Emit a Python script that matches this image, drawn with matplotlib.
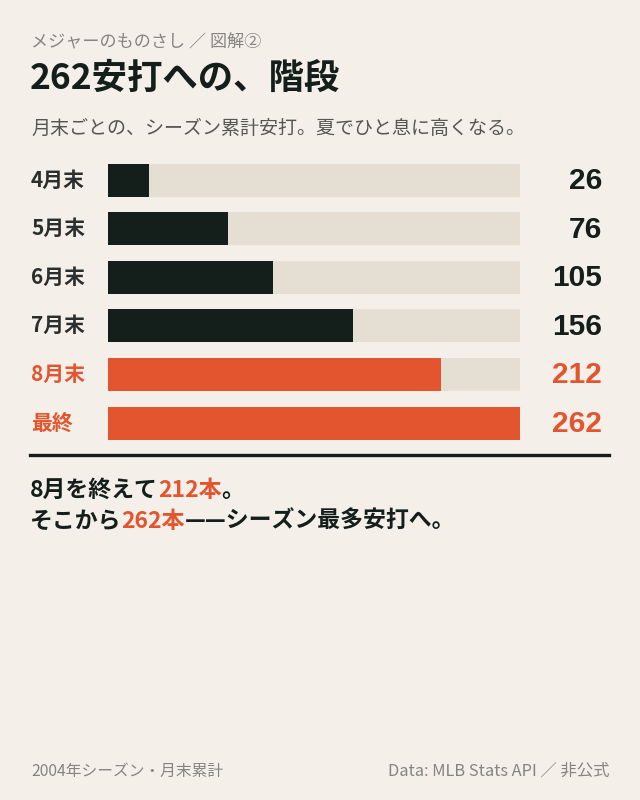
import matplotlib
matplotlib.use("Agg")
import matplotlib.pyplot as plt
import matplotlib.transforms as mtransforms
from matplotlib import font_manager

# ---- data ----
categories = ["4月末", "5月末", "6月末", "7月末", "8月末", "最終"]
hits = [26, 76, 105, 156, 212, 262]
highlight = [False, False, False, False, True, True]
total = 262

kicker = "メジャーのものさし ／ 図解②"
title = "262安打への、階段"
subtitle = "月末ごとの、シーズン累計安打。夏でひと息に高くなる。"
footer_left = "2004年シーズン・月末累計"
footer_right = "Data: MLB Stats API ／ 非公式"

BG = "#F4F0E9"
TRACK = "#E4DED3"
DARK = "#141F1B"
ORANGE = "#E2552F"
GRAY = "#85847F"

JP = ["Noto Sans CJK JP", "DejaVu Sans"]
names = {f.name for f in font_manager.fontManager.ttflist}
NUM = ["Liberation Sans Narrow"] if "Liberation Sans Narrow" in names else ["Liberation Sans"]
plt.rcParams["font.family"] = JP

W, H = 640, 800
fig = plt.figure(figsize=(W / 100, H / 100), dpi=100, facecolor=BG)

def fy(px):
    return 1 - px / H

def fx(px):
    return px / W

# header
fig.text(fx(31), fy(42), kicker, fontsize=12.3, color=GRAY, va="center", ha="left")
fig.text(fx(30), fy(78), title, fontsize=25.5, fontweight="bold", color=DARK, va="center", ha="left")
fig.text(fx(31), fy(128), subtitle, fontsize=13.7, color="#555552", va="center", ha="left")

# bars axes
row0, step = 180, 48.6
top_px = row0 - step / 2
bot_px = row0 + step * 5.5
ax = fig.add_axes([fx(108), fy(bot_px), fx(520) - fx(108), (bot_px - top_px) / H])
ax.set_facecolor("none")
ax.set_xlim(0, total)
ax.set_ylim(5.5, -0.5)
ax.axis("off")

bh = 33 / step
ys = list(range(len(categories)))
ax.barh(ys, [total] * len(ys), height=bh, color=TRACK, linewidth=0)
ax.barh(ys, hits, height=bh, color=[ORANGE if h else DARK for h in highlight], linewidth=0)

tr = mtransforms.blended_transform_factory(fig.transFigure, ax.transData)
for y, c, v, h in zip(ys, categories, hits, highlight):
    col = ORANGE if h else "#2A2E2C"
    ax.text(fx(31), y, c, transform=tr, fontsize=15, fontweight="bold", color=col,
            va="center", ha="left")
    ax.text(fx(602), y + 0.02, str(v), transform=tr, fontsize=21.5, fontweight="bold",
            color=ORANGE if h else DARK, va="center", ha="right", family=NUM)

# separator
fig.add_artist(plt.Line2D([fx(30), fx(609)], [fy(455), fy(455)], color=DARK, linewidth=2.4))

# annotation (multi-coloured)
def colored_line(parts, x_px, y_px, size=16.5):
    x = fx(x_px)
    renderer = fig.canvas.get_renderer()
    for txt, col in parts:
        t = fig.text(x, fy(y_px), txt, fontsize=size, fontweight="bold", color=col,
                     va="center", ha="left")
        bb = t.get_window_extent(renderer=renderer)
        x += bb.width / W

colored_line([("8月を終えて", DARK), ("212本", ORANGE), ("。", DARK)], 30, 490)
colored_line([("そこから", DARK), ("262本", ORANGE), ("——シーズン最多安打へ。", DARK)], 30, 521)

# footer
fig.text(fx(31), fy(771), footer_left, fontsize=11.3, color=GRAY, va="center", ha="left")
fig.text(fx(609), fy(771), footer_right, fontsize=11.8, color=GRAY, va="center", ha="right")

fig.savefig("out.png", dpi=100, facecolor=BG)
